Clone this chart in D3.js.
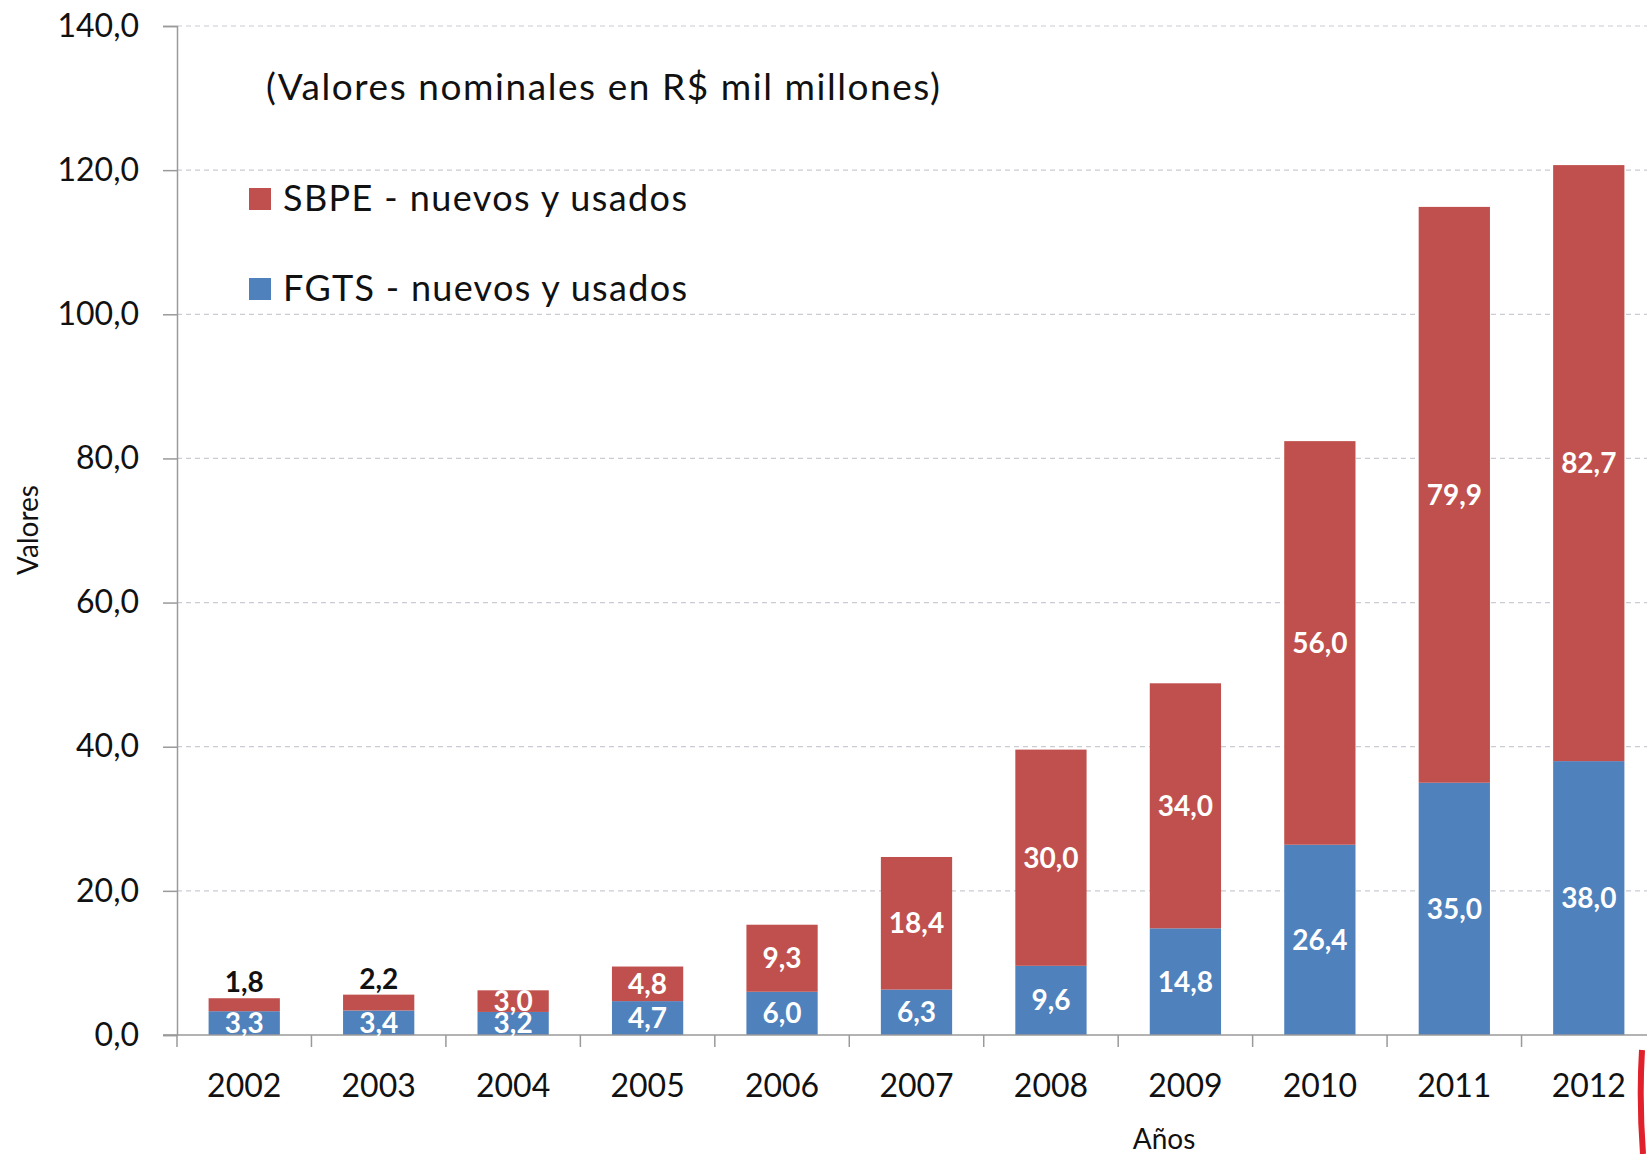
<!DOCTYPE html>
<html>
<head>
<meta charset="utf-8">
<script src="https://cdn.jsdelivr.net/npm/d3@7"></script>
<style>
  body { margin: 0; background: #fff; }
  svg { display: block; font-family: Lato, "Open Sans", sans-serif; }
</style>
</head>
<body>
<div id="chart"></div>
<script>
// data
let years = ["2002","2003","2004","2005","2006","2007","2008","2009","2010","2011","2012"];
let fgts  = [3.3, 3.4, 3.2, 4.7, 6.0, 6.3, 9.6, 14.8, 26.4, 35.0, 38.0];
let sbpe  = [1.8, 2.2, 3.0, 4.8, 9.3, 18.4, 30.0, 34.0, 56.0, 79.9, 82.7];
let yTicks = [0, 20, 40, 60, 80, 100, 120, 140];
let seriesNames = ["SBPE - nuevos y usados", "FGTS - nuevos y usados"];
let seriesColors = ["#C0504D", "#4F81BD"];

let width = 1647, height = 1154;
let plotLeft = 177, plotRight = 1656, plotTop = 26, plotBottom = 1035;

let locale = d3.formatLocale({decimal: ",", thousands: ".", grouping: [3], currency: ["R$", ""]});
let fmt = locale.format(".1f");

let svg = d3.select("#chart").append("svg")
    .attr("width", width)
    .attr("height", height);

let x = d3.scaleBand()
    .domain(years)
    .range([plotLeft, plotRight])
    .paddingInner(0.47)
    .paddingOuter(0.235);

let xCell = d3.scaleBand()
    .domain(years)
    .range([plotLeft, plotRight])
    .padding(0);

let y = d3.scaleLinear()
    .domain([0, 140])
    .range([plotBottom, plotTop]);

// gridlines
svg.append("g")
    .selectAll("line")
    .data(yTicks.filter(d => d > 0))
    .join("line")
    .attr("x1", plotLeft).attr("x2", width)
    .attr("y1", d => y(d)).attr("y2", d => y(d))
    .attr("stroke", "#c9ccd3")
    .attr("stroke-width", 1.2)
    .attr("stroke-dasharray", "5,4");

// y axis
let yAxis = d3.axisLeft(y)
    .tickValues(yTicks)
    .tickFormat(fmt)
    .tickSize(14)
    .tickPadding(24);

let yAxisGroup = svg.append("g")
    .attr("transform", "translate(" + plotLeft + ",0)")
    .call(yAxis);
yAxisGroup.select(".domain").attr("stroke", "#9a9a9a").attr("stroke-width", 1.5);
yAxisGroup.selectAll(".tick line").attr("stroke", "#9a9a9a").attr("stroke-width", 1.5);
yAxisGroup.selectAll(".tick text")
    .attr("font-size", 32)
    .attr("fill", "#111")
    .attr("font-family", "Lato, sans-serif");

// stacked bars
let rows = years.map((yr, i) => ({year: yr, fgts: fgts[i], sbpe: sbpe[i]}));
let stack = d3.stack().keys(["fgts", "sbpe"]);
let layers = stack(rows);
let colorOf = {fgts: seriesColors[1], sbpe: seriesColors[0]};

svg.append("g")
    .selectAll("g")
    .data(layers)
    .join("g")
    .attr("fill", d => colorOf[d.key])
    .selectAll("rect")
    .data(d => d)
    .join("rect")
    .attr("x", d => x(d.data.year))
    .attr("width", x.bandwidth())
    .attr("y", d => y(d[1]))
    .attr("height", d => y(d[0]) - y(d[1]));

// x axis line and ticks
svg.append("line")
    .attr("x1", plotLeft - 14).attr("x2", width)
    .attr("y1", plotBottom).attr("y2", plotBottom)
    .attr("stroke", "#9a9a9a").attr("stroke-width", 1.5);

svg.append("g")
    .selectAll("line")
    .data(years)
    .join("line")
    .attr("x1", d => xCell(d)).attr("x2", d => xCell(d))
    .attr("y1", plotBottom).attr("y2", plotBottom + 12)
    .attr("stroke", "#9a9a9a").attr("stroke-width", 1.5);

svg.append("g")
    .selectAll("text")
    .data(years)
    .join("text")
    .attr("x", d => x(d) + x.bandwidth() / 2)
    .attr("y", 1097)
    .attr("text-anchor", "middle")
    .attr("font-size", 32)
    .attr("fill", "#111")
    .text(d => d);

// value labels
let labels = svg.append("g")
    .attr("font-weight", "bold")
    .attr("font-size", 28)
    .attr("text-anchor", "middle");

layers.forEach(layer => {
    layer.forEach(d => {
        let v = d[1] - d[0];
        let cx = x(d.data.year) + x.bandwidth() / 2;
        let outside = layer.key === "sbpe" && v < 2.5;
        labels.append("text")
            .attr("x", cx)
            .attr("y", outside ? y(d[1]) - 6 : y((d[0] + d[1]) / 2) + 10)
            .attr("fill", outside ? "#111" : "#fff")
            .text(fmt(v));
    });
});

// subtitle
svg.append("text")
    .attr("x", 266)
    .attr("y", 100)
    .attr("font-size", 37)
    .attr("fill", "#111")
    .attr("textLength", 674)
    .attr("lengthAdjust", "spacing")
    .text("(Valores nominales en R$ mil millones)");

// legend
let legend = svg.append("g");
seriesNames.forEach((name, i) => {
    let ly = 199 + i * 90;
    legend.append("rect")
        .attr("x", 249).attr("y", ly - 11)
        .attr("width", 22).attr("height", 22)
        .attr("fill", seriesColors[i]);
    legend.append("text")
        .attr("x", 283).attr("y", ly + 12)
        .attr("font-size", 36)
        .attr("fill", "#111")
        .attr("textLength", 404)
        .attr("lengthAdjust", "spacing")
        .text(name);
});

// axis titles
svg.append("text")
    .attr("transform", "translate(38,530) rotate(-90)")
    .attr("text-anchor", "middle")
    .attr("font-size", 28)
    .attr("fill", "#111")
    .text("Valores");

svg.append("text")
    .attr("x", 1164)
    .attr("y", 1149)
    .attr("text-anchor", "middle")
    .attr("font-size", 28)
    .attr("fill", "#111")
    .text("Años");

// red page-edge stroke at bottom right
svg.append("path")
    .attr("d", "M1642,1050 Q1639,1100 1643,1154")
    .attr("fill", "none")
    .attr("stroke", "#e0202a")
    .attr("stroke-width", 6);
</script>
</body>
</html>
